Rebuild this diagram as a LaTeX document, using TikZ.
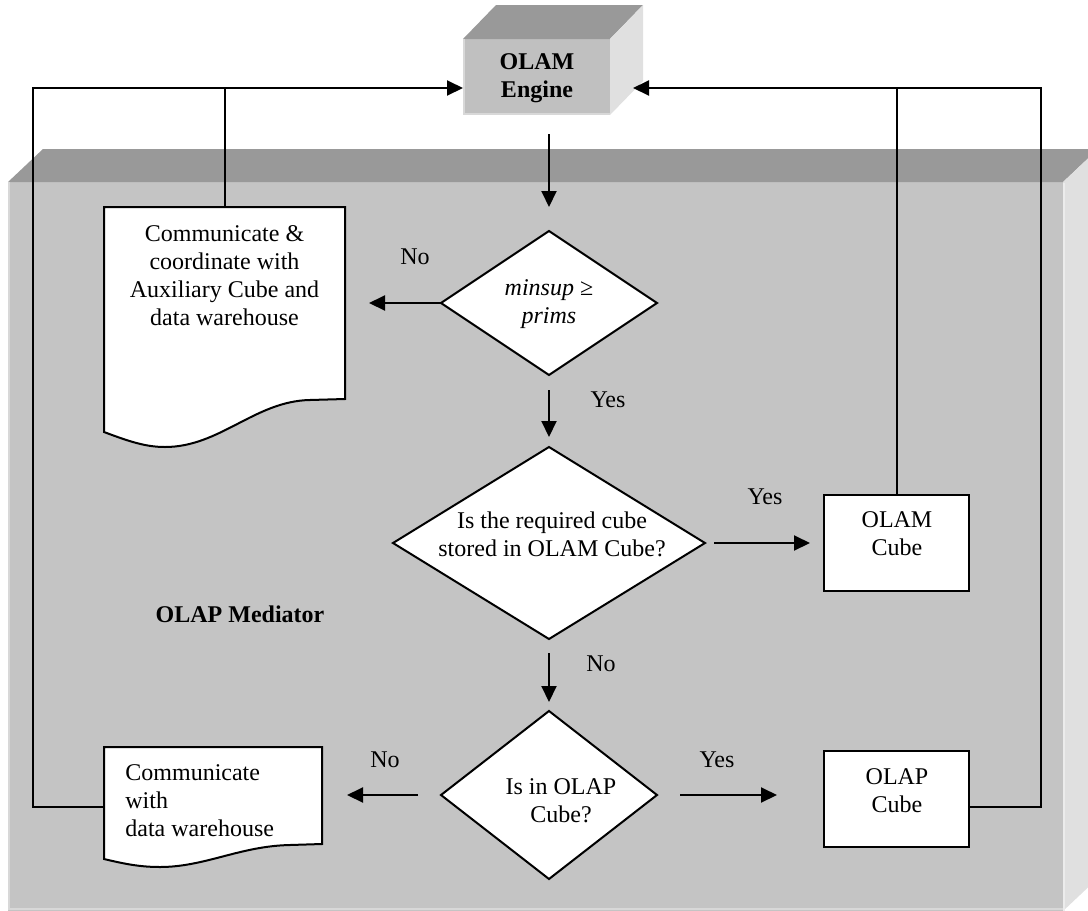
\documentclass[tikz,border=0pt]{standalone}
\usepackage{fontspec}
\setmainfont{Liberation Serif}
\usetikzlibrary{arrows.meta,shapes.geometric}
\definecolor{frontgray}{HTML}{C4C4C4}
\definecolor{enginegray}{HTML}{C0C0C0}
\definecolor{topgray}{HTML}{999999}
\definecolor{sidegray}{HTML}{E0E0E0}
\definecolor{edgegray}{HTML}{D8D8D8}
\begin{document}
\begin{tikzpicture}[
  x=0.5pt, y=-0.5pt,
  font=\fontsize{12}{14}\selectfont,
  flow/.style={line width=1pt},
  arr/.style={flow, -{Triangle[length=8pt,width=7.5pt]}},
  box/.style={draw, line width=1pt, fill=white, rectangle, inner sep=0pt, outer sep=0pt},
  decision/.style={draw, line width=1pt, fill=white, diamond, inner sep=0pt, outer sep=0pt},
  slot/.style={rectangle, draw=none, inner sep=0pt, outer sep=0pt},
  txt/.style={align=center, inner sep=0pt},
  lbl/.style={inner sep=0pt}
]
\useasboundingbox (0,0) rectangle (1088,911);

% mediator block drawn as a 3-D slab
\begin{scope}
  \clip (0,0) rectangle (1088,911);
  \fill[frontgray] (8,182) rectangle (1063,911);
  \fill[topgray] (8,182) -- (43,149) -- (1098,149) -- (1063,182) -- cycle;
  \fill[sidegray] (1063,182) -- (1098,149) -- (1098,878) -- (1063,911) -- cycle;
  \draw[edgegray, line width=1pt] (9,182) -- (9,909) -- (1063,909);
  \draw[white!85!gray, line width=0.8pt] (1064,183) -- (1064,911);
\end{scope}

% engine block
\node[slot, fill=enginegray, minimum width=73.5pt, minimum height=38pt] (engine) at (536.5,77) {};
\fill[topgray] (engine.north west) -- ++(33,-34) -- ++(147,0) -- (engine.north east) -- cycle;
\fill[sidegray] (engine.north east) -- ++(33,-34) -- ++(0,76) -- (engine.south east) -- cycle;
\draw[edgegray, line width=1pt] ([xshift=0.5pt]engine.north west) -- ([xshift=0.5pt,yshift=0.5pt]engine.south west) -- ([yshift=0.5pt]engine.south east);
\node[txt, font=\fontsize{12}{14}\selectfont\bfseries] (enginetext) at (537,78) {OLAM\\Engine};

% document-shaped process boxes
\node[slot, minimum width=120.5pt, minimum height=96pt] (doc1) at (224.5,303) {};
\filldraw[fill=white, line width=1pt] (345,399) -- (345,207) -- (104,207) -- (104,432)
  .. controls (128,441) and (145,447) .. (165,447)
  .. controls (220,447) and (255,401) .. (310,400) -- cycle;
\node[slot, minimum width=109pt, minimum height=48.5pt] (doc2) at (213,795.5) {};
\filldraw[fill=white, line width=1pt] (322,844) -- (322,747) -- (104,747) -- (104,859)
  .. controls (125,864) and (140,867) .. (160,867)
  .. controls (205,867) and (240,846) .. (290,845) -- cycle;

% decisions
\node[decision, minimum width=108pt, minimum height=72pt] (q1) at (549,303) {};
\node[decision, minimum width=156pt, minimum height=96pt] (q2) at (549,543) {};
\node[decision, minimum width=108pt, minimum height=84pt] (q3) at (549,795) {};

% cubes
\node[box, minimum width=72.5pt, minimum height=48pt] (olamcube) at (896.5,543) {};
\node[box, minimum width=72.5pt, minimum height=48pt] (olapcube) at (896.5,799) {};

% texts
\node[txt] (doc1text) at (224.5,276) {Communicate \&\\coordinate with\\Auxiliary Cube and\\data warehouse};
\node[txt, align=left, anchor=west] (doc2text) at (125,801) {Communicate\\with\\data warehouse};
\node[txt] (q1text) at (549,304) {\textit{minsup} ≥\\\textit{prims}};
\node[txt] (q2text) at (552,534) {Is the required cube\\stored in OLAM Cube?};
\node[txt] (q3text) at (561,801) {Is in OLAP\\Cube?};
\node[txt] (olamtext) at (897,534) {OLAM\\Cube};
\node[txt] (olaptext) at (897,791) {OLAP\\Cube};
\node[txt, font=\fontsize{12}{14}\selectfont\bfseries] (medtext) at (240,614) {OLAP Mediator};

% connectors
\coordinate (tl) at (33,88);
\coordinate (tr) at (1041,88);
\coordinate (engR) at (633,88);
\draw[arr] ([yshift=-5.75pt]doc2.west) -| (tl) -- (tl -| engine.west);
\draw[flow] (doc1.north) -- (doc1.north |- tl);
\draw[arr] ([yshift=-4pt]olapcube.east) -| (tr) -- (engR);
\draw[flow] (olamcube.north) -- (olamcube.north |- tr);
\draw[arr, shorten <=9.5pt, shorten >=12pt] (q1.north |- engine.south) -- (q1.north);
\draw[arr, shorten >=12pt] (q1.west) -- (doc1.east);
\draw[arr, shorten <=7.5pt, shorten >=5pt] (q1.south) -- (q2.north);
\draw[arr, shorten <=4.5pt, shorten >=7pt] (q2.east) -- (olamcube.west);
\draw[arr, shorten <=7pt, shorten >=4.5pt] (q2.south) -- (q3.north);
\draw[arr, shorten <=11.5pt, shorten >=12.5pt] (q3.west) -- (q3.west -| doc2.east);
\draw[arr, shorten <=11.5pt, shorten >=23.5pt] (q3.east) -- (q3.east -| olapcube.west);

% branch labels
\node[lbl] (no1) at (415,257) {No};
\node[lbl] (yes1) at (608,400) {Yes};
\node[lbl] (yes2) at (765,497) {Yes};
\node[lbl] (no2) at (601,664) {No};
\node[lbl] (yes3) at (717,760) {Yes};
\node[lbl] (no3) at (385,760) {No};
\end{tikzpicture}
\end{document}
